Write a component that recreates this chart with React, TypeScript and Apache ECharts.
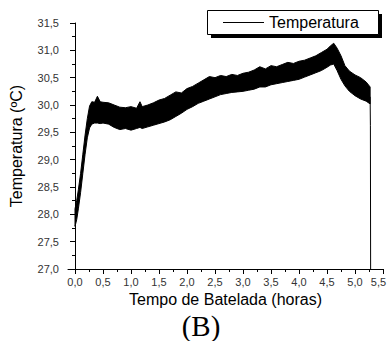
import React, { useEffect, useRef } from "react";
import * as echarts from "echarts";

// Time (hours) and the upper / lower edges of the noisy temperature band (°C)
const times = [0, 0.03, 0.06, 0.1, 0.14, 0.18, 0.22, 0.26, 0.3, 0.35, 0.4, 0.45, 0.5, 0.6, 0.7, 0.8, 0.9, 1.0, 1.1, 1.16, 1.2, 1.3, 1.4, 1.5, 1.6, 1.7, 1.8, 1.9, 2.0, 2.1, 2.2, 2.3, 2.4, 2.5, 2.6, 2.7, 2.8, 2.9, 3.0, 3.1, 3.2, 3.3, 3.4, 3.5, 3.6, 3.7, 3.8, 3.9, 4.0, 4.1, 4.2, 4.3, 4.4, 4.5, 4.56, 4.62, 4.68, 4.75, 4.82, 4.9, 5.0, 5.1, 5.2, 5.27];
const upper = [28.1, 28.25, 28.45, 28.75, 29.1, 29.45, 29.75, 29.98, 30.06, 30.05, 30.16, 30.06, 30.05, 30.04, 30.0, 29.96, 29.95, 29.97, 29.94, 30.06, 29.97, 30.0, 30.04, 30.09, 30.12, 30.18, 30.24, 30.22, 30.3, 30.34, 30.4, 30.46, 30.52, 30.5, 30.54, 30.52, 30.56, 30.54, 30.58, 30.6, 30.64, 30.7, 30.66, 30.72, 30.7, 30.74, 30.78, 30.76, 30.8, 30.82, 30.86, 30.9, 30.96, 31.02, 31.08, 31.13, 31.04, 30.9, 30.72, 30.62, 30.55, 30.5, 30.42, 30.33];
const lower = [27.78, 27.9, 28.1, 28.4, 28.75, 29.1, 29.4, 29.58, 29.65, 29.67, 29.67, 29.66, 29.67, 29.65, 29.59, 29.55, 29.57, 29.54, 29.57, 29.59, 29.57, 29.6, 29.63, 29.66, 29.69, 29.73, 29.79, 29.85, 29.92, 29.97, 30.03, 30.07, 30.11, 30.15, 30.19, 30.21, 30.23, 30.24, 30.25, 30.27, 30.29, 30.33, 30.33, 30.37, 30.39, 30.41, 30.43, 30.45, 30.47, 30.51, 30.55, 30.59, 30.63, 30.69, 30.73, 30.75, 30.63, 30.47, 30.35, 30.25, 30.17, 30.11, 30.07, 30.02];
// final fall of the probe signal
const dropTimes = [5.27, 5.275, 5.28];
const dropValues = [30.15, 29.62, 26.5];

const xLabelValues = [0, 0.5, 1, 1.5, 2, 2.5, 3, 3.5, 4, 4.5, 5, 5.5];
const xMinorValues = [0.25, 0.75, 1.25, 1.75, 2.25, 2.75, 3.25, 3.75, 4.25, 4.75, 5.25];

const fmt = (v: number) => v.toFixed(1).replace(".", ",");

export default function App() {
  const ref = useRef<HTMLDivElement>(null);
  useEffect(() => {
    document.body.style.margin = "0";
    const chart = echarts.init(ref.current!, undefined, { renderer: "svg" });
    const font = "'Liberation Sans', Arial, sans-serif";
    const xBase = {
      type: "value" as const,
      min: -0.125,
      max: 5.5,
      splitLine: { show: false },
    };
    chart.setOption({
      animation: false,
      backgroundColor: "#fff",
      grid: { left: 68, top: 23, width: 315, height: 246, outerBoundsMode: "none", containLabel: false },
      legend: {
        data: [{ name: "Temperatura", icon: "rect" }],
        left: 223,
        top: 13,
        padding: 0,
        itemWidth: 41,
        itemHeight: 1,
        itemGap: 0,
        itemStyle: { color: "rgba(0,0,0,0)", borderWidth: 0, borderColor: "rgba(0,0,0,0)" },
        textStyle: { fontFamily: font, fontSize: 16, color: "#000", lineHeight: 18 },
      },
      graphic: [
        { type: "rect", shape: { x: 211, y: 14, width: 171, height: 24 }, style: { fill: "#000" }, z: 0 },
        { type: "rect", shape: { x: 207.5, y: 10.5, width: 171, height: 24 }, style: { fill: "#fff", stroke: "#000", lineWidth: 1 }, z: 1 },
        { type: "line", shape: { x1: 223, y1: 22.5, x2: 264, y2: 22.5 }, style: { stroke: "#000", lineWidth: 1 }, z: 5 },
        {
          type: "text",
          x: 201,
          y: 326,
          style: { text: "(B)", font: "29px 'Liberation Serif', 'Times New Roman', serif", fill: "#000", align: "center", verticalAlign: "middle" },
        },
      ],
      xAxis: [
        {
          ...xBase,
          name: "Tempo de Batelada (horas)",
          nameLocation: "middle",
          nameGap: 18,
          nameTextStyle: { fontFamily: font, fontSize: 16, color: "#000" },
          axisLine: { show: true, lineStyle: { color: "#000", width: 1 } },
          axisTick: { show: true, length: 5, lineStyle: { color: "#000" }, customValues: xLabelValues },
          axisLabel: {
            customValues: xLabelValues,
            formatter: (v: number) => (v >= 5.5 ? "{m|" + fmt(v) + "}" : fmt(v)),
            fontFamily: font,
            fontSize: 11,
            color: "#333",
            margin: 7,
            rich: { m: { fontFamily: font, fontSize: 11, color: "#333", padding: [0, 9, 0, 0] } },
          },
        },
        {
          ...xBase,
          position: "bottom",
          axisLine: { show: false },
          axisTick: { show: true, length: 3, lineStyle: { color: "#000" }, customValues: xMinorValues },
          axisLabel: { show: false },
        },
      ],
      yAxis: {
        type: "value",
        min: 27,
        max: 31.5,
        interval: 0.5,
        name: "Temperatura (ºC)",
        nameLocation: "middle",
        nameGap: 44,
        nameTextStyle: { fontFamily: font, fontSize: 16, color: "#000" },
        splitLine: { show: false },
        axisLine: { show: true, lineStyle: { color: "#000", width: 1 } },
        axisTick: { show: true, length: 5, lineStyle: { color: "#000" } },
        minorTick: { show: true, splitNumber: 2, length: 3, lineStyle: { color: "#000" } },
        axisLabel: { formatter: fmt, fontFamily: font, fontSize: 11, color: "#333", margin: 9 },
      },
      series: [
        {
          name: "Temperatura",
          type: "custom",
          itemStyle: { color: "#000" },
          encode: { x: 0, y: [1, 2] },
          data: times.map((t, i) => [t, lower[i], upper[i]]),
          renderItem: (params: any, api: any) => {
            if (params.dataIndex !== 0) return null;
            const pts: number[][] = [];
            for (let i = 0; i < times.length; i++) pts.push(api.coord([times[i], upper[i]]));
            for (let i = times.length - 1; i >= 0; i--) pts.push(api.coord([times[i], lower[i]]));
            return {
              type: "polygon",
              shape: { points: pts },
              style: { fill: "#000", stroke: "#000", lineWidth: 1 },
            };
          },
        },
        {
          name: "queda",
          type: "line",
          symbol: "none",
          lineStyle: { color: "#000", width: 1 },
          data: dropTimes.map((t, i) => [t, dropValues[i]]),
        },
      ],
    });
    return () => chart.dispose();
  }, []);
  return <div ref={ref} style={{ width: 388, height: 341 }} />;
}
